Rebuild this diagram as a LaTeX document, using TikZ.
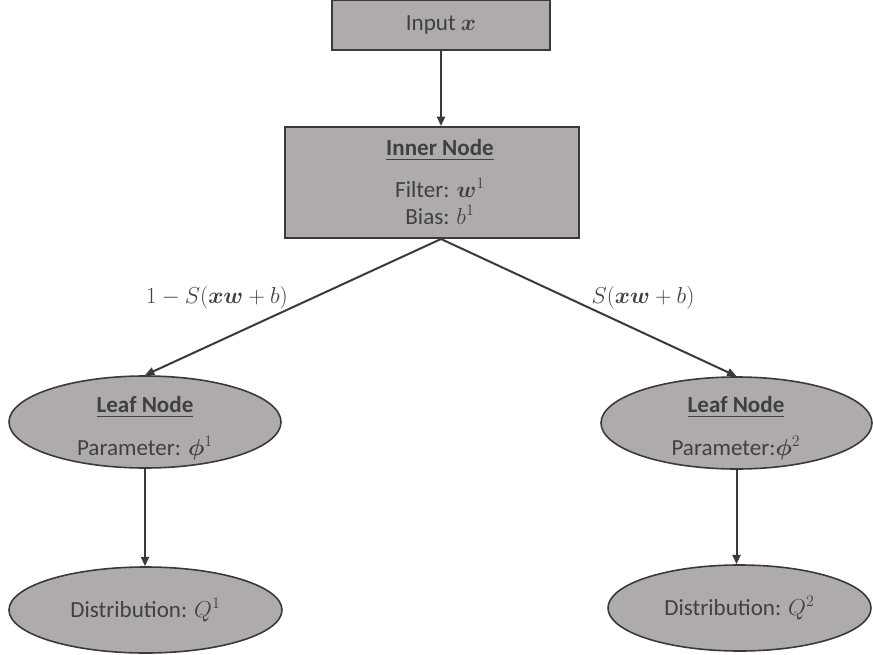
\documentclass[tikz,border=0pt]{standalone}
\usepackage{amsmath}
\usepackage{bm}
\usepackage{fontspec}
\setmainfont{Carlito}
\usetikzlibrary{arrows.meta,shapes.geometric}

\definecolor{boxfill}{HTML}{AFABAB}
\definecolor{edgecol}{HTML}{3A3A3A}
\definecolor{txtcol}{HTML}{404040}

\tikzset{
  px/.style={x=0.75pt,y=-0.75pt},
  rectnode/.style={draw=edgecol,fill=boxfill,line width=1.5pt,rectangle,inner sep=0pt},
  ovalnode/.style={draw=edgecol,fill=boxfill,line width=1.2pt,ellipse,inner sep=0pt},
  lbl/.style={text=txtcol,inner sep=0pt,font=\fontsize{17.3}{20.8}\selectfont},
  conn/.style={draw=edgecol,line width=1.5pt},
  arr/.style={conn,-{Triangle[length=7pt,width=6pt]}},
}

\begin{document}
\begin{tikzpicture}[px]
\useasboundingbox (0,0) rectangle (873,655);

% boxes
\node[rectnode,minimum width=218*0.75pt,minimum height=50*0.75pt] (input) at (441,25) {};
\node[rectnode,minimum width=294*0.75pt,minimum height=111*0.75pt] (inner) at (431.5,182.5) {};

% ellipses
\node[ovalnode,minimum width=272*0.75pt,minimum height=92*0.75pt] (leafA) at (145,422) {};
\node[ovalnode,minimum width=271*0.75pt,minimum height=92*0.75pt] (leafB) at (736.5,423) {};
\node[ovalnode,minimum width=273*0.75pt,minimum height=86*0.75pt] (distA) at (145.5,610) {};
\node[ovalnode,minimum width=263*0.75pt,minimum height=86*0.75pt] (distB) at (739.5,608) {};

% texts
\node[lbl] (tinput) at (441,25) {Input $\bm{x}$};
\node[lbl] (tinner) at (440,150) {\underline{\textbf{Inner Node}}};
\node[lbl] (tfilter) at (440,188) {Filter: $\bm{w}^1$};
\node[lbl] (tbias) at (440,215) {Bias: $b^1$};
\node[lbl] (tleafA) at (145,407) {\underline{\textbf{Leaf Node}}};
\node[lbl] (tparA) at (145,448) {Parameter: $\bm{\phi}^1$};
\node[lbl] (tleafB) at (736,407) {\underline{\textbf{Leaf Node}}};
\node[lbl] (tparB) at (736,448) {Parameter:$\bm{\phi}^2$};
\node[lbl] (tdistA) at (145.5,610) {Distribution: $Q^1$};
\node[lbl] (tdistB) at (739.5,608) {Distribution: $Q^2$};

% branch labels
\node[lbl] (gleft) at (217,298) {$1-S(\bm{x}\bm{w}+b)$};
\node[lbl] (gright) at (643,298) {$S(\bm{x}\bm{w}+b)$};

% connectors
\coordinate (apex) at (inner.south -| input.south);
\draw[arr] (input.south) -- (apex |- inner.north);
\draw[arr] (apex) -- (leafA.north);
\draw[arr] (apex) -- (leafB.north);
\draw[arr] (leafA.south) -- (leafA.south |- distA.north);
\draw[arr] (leafB.south) -- (leafB.south |- distB.north);
\end{tikzpicture}
\end{document}
